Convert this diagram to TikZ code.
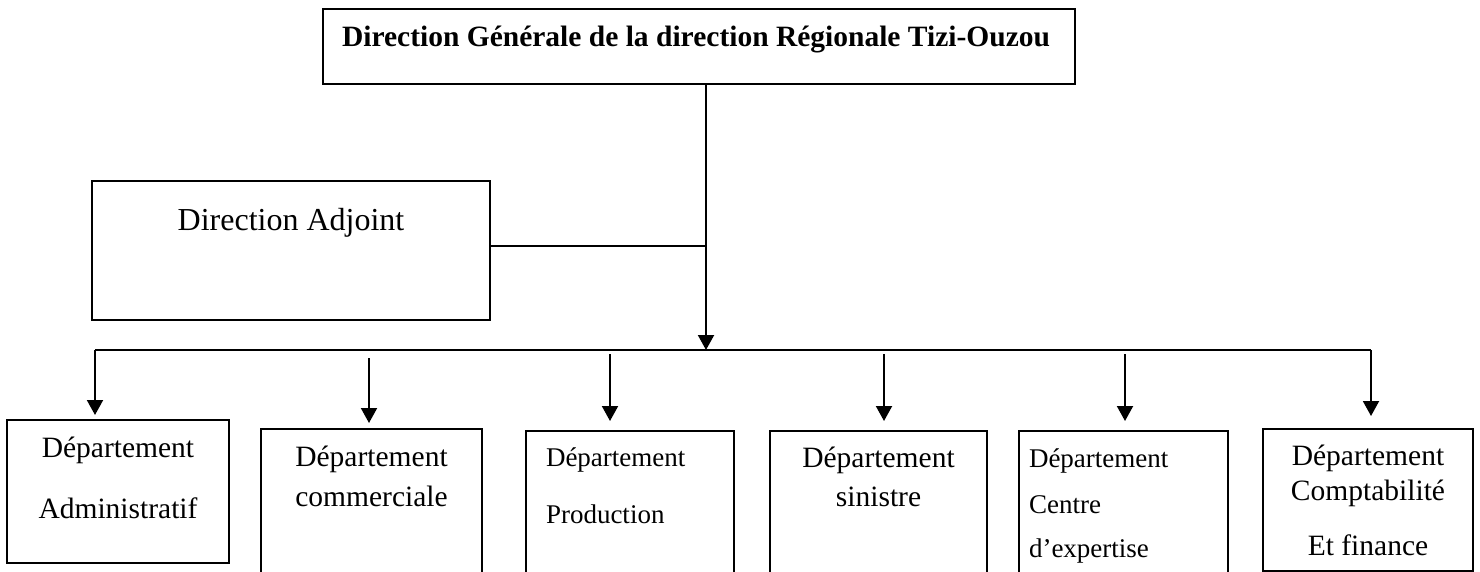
\documentclass[tikz,border=0pt]{standalone}
\usepackage{fontspec}
\setmainfont{Liberation Serif}
\usetikzlibrary{arrows.meta}
\begin{document}
\begin{tikzpicture}[x=1pt,y=-1pt,
  box/.style={draw, line width=2pt, inner sep=0pt, outer sep=0pt, anchor=north west},
  lbl/.style={anchor=base, inner sep=0pt, outer sep=0pt},
  lblw/.style={anchor=base west, inner sep=0pt, outer sep=0pt},
  big/.style={font=\fontsize{29.5}{34}\selectfont},
  small/.style={font=\fontsize{27}{32}\selectfont},
  conn/.style={line width=2pt},
  arr/.style={conn, -{Triangle[width=16pt,length=15pt]}}]
\useasboundingbox (0,0) rectangle (1480,572);
\clip (0,0) rectangle (1480,572);
% boxes
\node[box, minimum width=752pt, minimum height=75pt] (dg) at (323,9) {};
\node[box, minimum width=398pt, minimum height=139pt] (da) at (92,181) {};
\node[box, minimum width=222pt, minimum height=143pt] (d1) at (7,420) {};
\node[box, minimum width=221pt, minimum height=160pt] (d2) at (261,429) {};
\node[box, minimum width=208pt, minimum height=160pt] (d3) at (526,431) {};
\node[box, minimum width=217pt, minimum height=160pt] (d4) at (770,431) {};
\node[box, minimum width=209pt, minimum height=160pt] (d5) at (1019,431) {};
\node[box, minimum width=210pt, minimum height=142pt] (d6) at (1263,429) {};
% texts
\node[lbl, font=\fontsize{29.5}{34}\selectfont\bfseries] (tdg) at (696,47) {Direction Générale de la direction Régionale Tizi-Ouzou};
\node[lbl, font=\fontsize{32}{38}\selectfont] (tda) at (291,230) {Direction Adjoint};
\node[lbl, big] (t1a) at (118,457) {Département};
\node[lbl, big] (t1b) at (118,518) {Administratif};
\node[lbl, big] (t2a) at (371.5,466) {Département};
\node[lbl, big] (t2b) at (371.5,506) {commerciale};
\node[lblw, small] (t3a) at (546,466) {Département};
\node[lblw, small] (t3b) at (546,523) {Production};
\node[lbl, big] (t4a) at (878.5,467) {Département};
\node[lbl, big] (t4b) at (878.5,506) {sinistre};
\node[lblw, small] (t5a) at (1029,467) {Département};
\node[lblw, small] (t5b) at (1029,513) {Centre};
\node[lblw, small] (t5c) at (1029,557) {d’expertise};
\node[lbl, big] (t6a) at (1368,465) {Département};
\node[lbl, big] (t6b) at (1368,500) {Comptabilité};
\node[lbl, big] (t6c) at (1368,555) {Et finance};
% connectors
\coordinate (j) at (706,350);
\coordinate (bl) at (95,350);
\coordinate (br) at (1371,350);
\coordinate (dae) at ([yshift=5pt]da.east);
\coordinate (a2) at (369,358);
\coordinate (a3) at (610,354);
\coordinate (a4) at (884,354);
\coordinate (a5) at (1125,354);
\draw[conn] (dae) -- (dae -| j);
\draw[conn] (bl) -- (br);
\draw[arr] (dg.south -| j) -- (j);
\draw[arr, shorten >=5pt] (bl) -- (d1.north -| bl);
\draw[arr, shorten >=6pt] (a2) -- (d2.north -| a2);
\draw[arr, shorten >=10pt] (a3) -- (d3.north -| a3);
\draw[arr, shorten >=10pt] (a4) -- (d4.north -| a4);
\draw[arr, shorten >=10pt] (a5) -- (d5.north -| a5);
\draw[arr, shorten >=13pt] (br) -- (d6.north -| br);
\end{tikzpicture}
\end{document}
